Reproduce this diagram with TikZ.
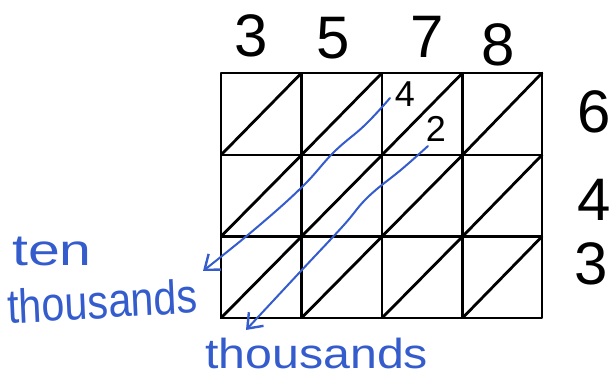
\documentclass[tikz,border=0pt]{standalone}
\usepackage{fontspec}
\setmainfont{Liberation Sans}
\usetikzlibrary{arrows.meta}
\definecolor{pen}{RGB}{52,92,205}
\tikzset{
  gridline/.style={line width=2.8pt, line cap=round, line join=round},
  bigdigit/.style={font=\fontsize{60}{60}\selectfont, anchor=base, inner sep=0pt},
  smalldigit/.style={font=\fontsize{36}{36}\selectfont, anchor=base, inner sep=0pt},
  bluetext/.style={text=pen, anchor=base west, inner sep=0pt},
  bluearrow/.style={draw=pen, line width=2pt, line cap=round, -{Straight Barb[length=13pt,width=20pt,line width=2.4pt]}},
}
\begin{document}
\begin{tikzpicture}[x=1pt,y=-1pt]
\useasboundingbox (0,0) rectangle (613,379);
% grid
\foreach \i/\xa/\xb in {0/221/301.5,1/301.5/382,2/382/462.5,3/462.5/542}{
  \foreach \j/\ya/\yb in {0/73/155,1/155/236.5,2/236.5/318}{
    \draw[gridline] (\xa,\ya) rectangle (\xb,\yb);
    \draw[gridline] (\xa,\yb) -- (\xb,\ya);
  }
}
% top digits
\node[bigdigit] (t1) at (251,57) {3};
\node[bigdigit] (t2) at (333,59) {5};
\node[bigdigit] (t3) at (427,58) {7};
\node[bigdigit] (t4) at (498,66) {8};
% right digits
\node[bigdigit] (r1) at (594,133) {6};
\node[bigdigit] (r2) at (594,221) {4};
\node[bigdigit] (r3) at (591,285) {3};
% small digits
\node[smalldigit] (p1) at (405,107) {4};
\node[smalldigit] (p2) at (436,142) {2};
% blue labels
\node[bluetext, font=\fontsize{44}{44}\selectfont, xscale=1.3] (ten) at (12,266) {ten};
\node[bluetext, font=\fontsize{48}{48}\selectfont, xscale=0.86, rotate=3] (tt) at (8,324) {thousands};
\node[bluetext, font=\fontsize{42}{42}\selectfont, xscale=1.15] (th) at (205,368) {thousands};
% arrows
\coordinate (s1) at (390,98);
\coordinate (e1) at (203,271);
\coordinate (s2) at (428,146);
\coordinate (e2) at (246,330);
\draw[bluearrow] plot[smooth, tension=0.7] coordinates {(s1) (365,125) (334,152) (302,187) (255,229) (e1)};
\draw[bluearrow] plot[smooth, tension=0.7] coordinates {(s2) (402,169) (368,197) (343,226) (300,272) (e2)};
\end{tikzpicture}
\end{document}
